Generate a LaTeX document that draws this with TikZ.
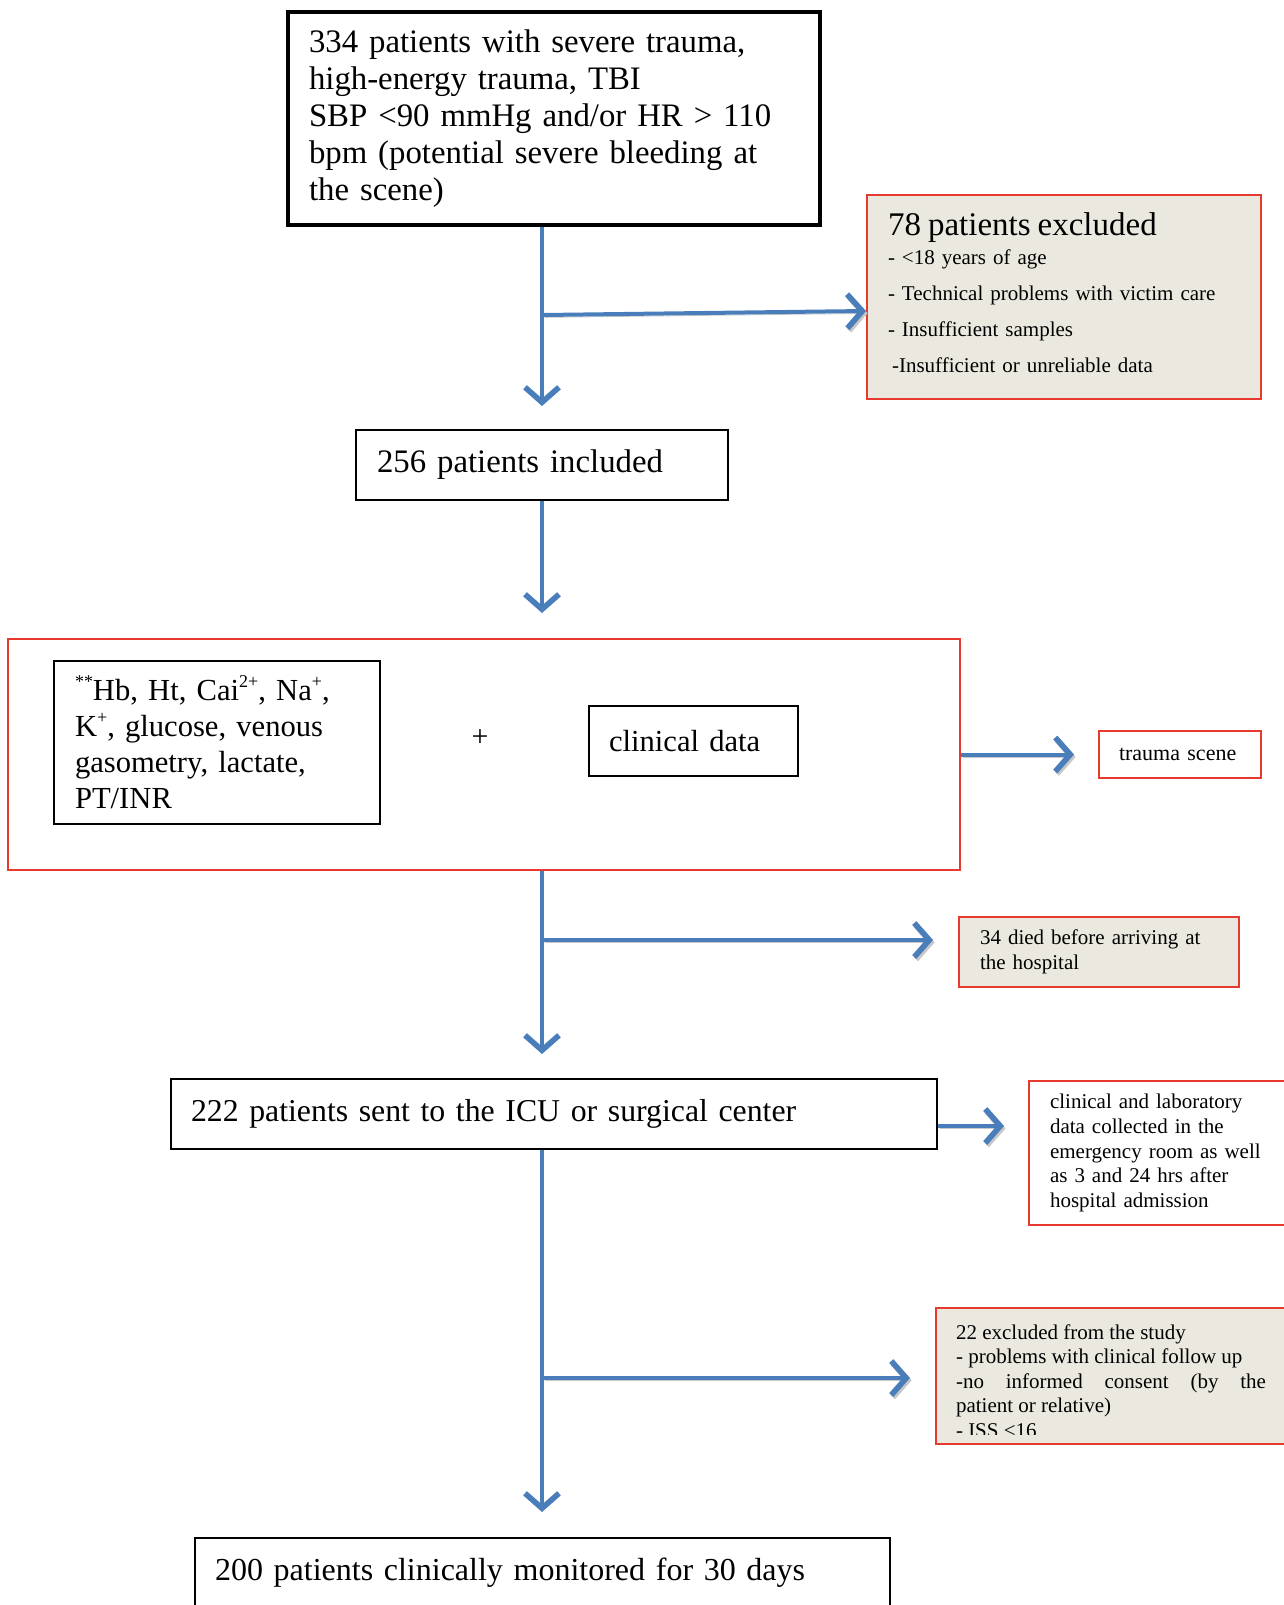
\documentclass[tikz,border=0pt]{standalone}
\usepackage{fontspec}
\setmainfont{Liberation Serif}
\usepackage{tikz}
\usetikzlibrary{arrows.meta,positioning,calc}
\definecolor{arrowblue}{HTML}{4A7EBB}
\definecolor{boxred}  {HTML}{E8392F}
\definecolor{notebg}  {HTML}{EBE9DF}
\newcommand\sups[1]{\raisebox{0.42em}{\fontsize{9}{9}\selectfont #1}}
\newcommand\exclreasons{22 excluded from the study\\
  - problems with clinical follow up\\
  -no informed consent (by the\linebreak patient or relative)\\
  - ISS <16}

\begin{document}
\begin{tikzpicture}[
  stepbox/.style={draw,line width=1pt,fill=white,align=left,
                  inner xsep=10.5pt,inner ysep=0pt,
                  font=\fontsize{16.4}{18.5}\selectfont},
  redframe/.style={draw=boxred,line width=1pt},
  note/.style={redframe,fill=notebg,align=left,
               inner xsep=10.5pt,inner ysep=0pt,
               font=\fontsize{10.5}{12.3}\selectfont},
  arr/.style={draw=arrowblue,line width=2pt,
              -{Straight Barb[length=7.5pt,width=17pt,line width=2.8pt]}},
  sarr/.style={arr,preaction={draw=black!22,
               transform canvas={shift={(0.8pt,-1.2pt)}}}},
  x=0.5pt,y=-0.5pt
]
\useasboundingbox (0,0) rectangle (1284,1605);

\node[stepbox,line width=2pt,text width=245pt,minimum height=106.5pt]
  (screen) at (554,119)
  {334 patients with severe trauma,\\ high-energy trauma, TBI\\
   SBP <90 mmHg and/or HR > 110\\ bpm (potential severe bleeding at\\
   the scene)};
\node[note,text width=176pt,minimum height=102pt,
      font=\fontsize{10.5}{18}\selectfont] (excl78) at (1064,297)
  {{\fontsize{16.5}{16.5}\selectfont 78 patients excluded}\\[-3.5pt]
   - <18 years of age\\ - Technical problems with victim care\\
   - Insufficient samples\\
   \hspace*{2pt}-Insufficient or unreliable data\rule[-4pt]{0pt}{1pt}};

\node[stepbox,text width=165pt,minimum height=35pt] (incl256) at (542,465)
  {256 patients included};

% field data block
\node[redframe,minimum width=476pt,minimum height=115.5pt] (scene)
  at (484,754.5) {};
\node[stepbox,text width=142pt,minimum height=81.5pt,
      font=\fontsize{15.3}{18}\selectfont] (labs) at (217,742.5)
  {\sups{**}Hb, Ht, Cai\sups{2+}, Na\sups{+},\\
   K\sups{+}, glucose, venous\\ gasometry, lactate,\\ PT/INR};
\node[font=\fontsize{15}{17}\selectfont] (plus) at (480,738) {+};
\node[stepbox,inner xsep=10pt,text width=84.5pt,minimum height=35pt,
      font=\fontsize{15.3}{18}\selectfont] (clin) at (693.5,741) {clinical data};
\node[redframe,fill=white,align=left,inner xsep=10pt,inner ysep=0pt,
      text width=61pt,minimum height=23.5pt,
      font=\fontsize{11}{13}\selectfont] (trauma) at (1180,754.5)
  {trauma scene};

\node[note,text width=119pt,minimum height=35pt] (died) at (1099,952)
  {34 died before arriving at\\ the hospital};

\node[stepbox,inner xsep=10pt,text width=363pt,minimum height=35pt,
      font=\fontsize{15.9}{18}\selectfont]
  (icu) at (554,1114) {222 patients sent to the ICU or surgical center};
\node[redframe,fill=white,align=left,inner xsep=10.5pt,inner ysep=0pt,
      text width=114.5pt,minimum height=72pt,
      font=\fontsize{10.5}{12.3}\selectfont] (erdata) at (1164.5,1153)
  {clinical and laboratory\\ data collected in the\\
   emergency room as well\\ as 3 and 24 hrs after\\ hospital admission};

% last exclusion, text cut at the bottom
\node[note,minimum width=175pt,minimum height=68pt] (excl22) at (1111,1376) {};
\begin{scope}
  \clip (excl22.north west) rectangle ([yshift=5.5pt]excl22.south east);
  \node[note,draw=none,fill=none,inner xsep=10pt,text width=155pt,
        align=justify] (excl22txt) at ([yshift=-2.5pt]excl22.center) {\exclreasons};
\end{scope}

\node[stepbox,inner xsep=10pt,text width=327.5pt,minimum height=35pt,
      font=\fontsize{16}{18}\selectfont]
  (followup) at (542.5,1573) {200 patients clinically monitored for 30 days};

% arrows
\coordinate (b1) at (543,315);
\coordinate (b2) at (543,940);
\coordinate (b3) at ($(icu.east)+(0,12)$);
\coordinate (b4) at (543,1378);

\draw[arr,shorten >=11.5pt] (incl256.north |- screen.south) -- (incl256.north);
\draw[sarr] (b1) -- ($(excl78.west)+(0,14)$);
\draw[arr,shorten >=12.5pt] (incl256.south) -- (incl256.south |- scene.north);
\draw[sarr,shorten >=12pt] (scene.east) -- (trauma.west);
\draw[arr,shorten >=12pt] (incl256.south |- scene.south) -- (incl256.south |- icu.north);
\draw[sarr,shorten >=12.5pt] (b2) -- (died.west |- b2);
\draw[sarr,shorten >=12pt] (b3) -- (erdata.west |- b3);
\draw[arr,shorten >=12.5pt] (incl256.south |- icu.south) -- (incl256.south |- followup.north);
\draw[sarr,shorten >=12.5pt] (b4) -- (excl22.west |- b4);
\end{tikzpicture}
\end{document}
